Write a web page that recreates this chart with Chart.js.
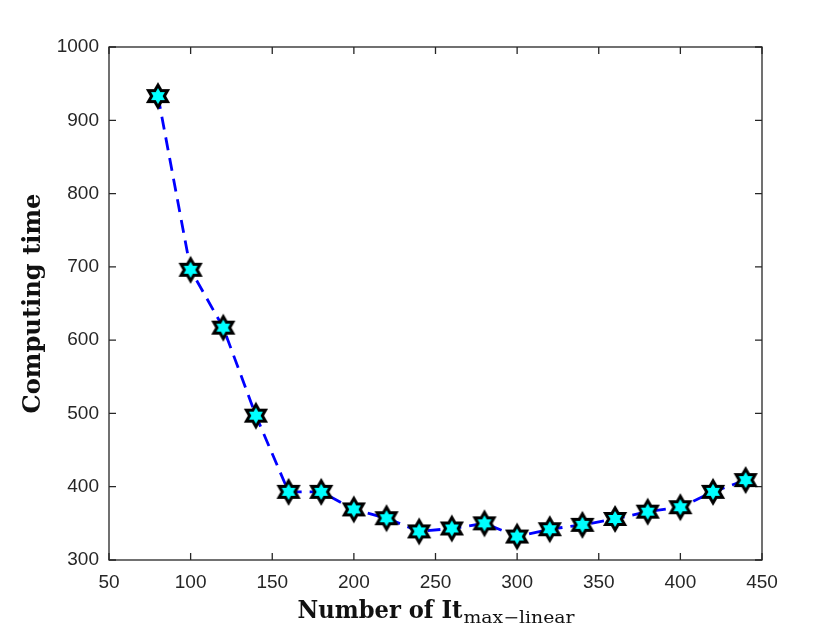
<!DOCTYPE html>
<html><head><meta charset="utf-8">
<script src="https://cdn.jsdelivr.net/npm/chart.js@4.4.0/dist/chart.umd.min.js"></script>
<style>html,body{margin:0;padding:0;background:#fff}#wrap{width:840px;height:630px}</style>
</head><body><div id="wrap"><canvas id="c" width="840" height="630"></canvas></div>
<script>
const xValues = [80,100,120,140,160,180,200,220,240,260,280,300,320,340,360,380,400,420,440];
const computingTime = [933,696,617,497,393,393,369,357,339,343,350,332,342,348,356,366,372,393,409];
const xTicks = [50,100,150,200,250,300,350,400,450];
const yTicks = [300,400,500,600,700,800,900,1000];
const yTitle = 'Computing time';
const xTitleMain = 'Number of It';
const xTitleSub = 'max\u2212linear';

function makeHexagram(R, lw){
  const s = Math.ceil(2*R + lw*2 + 4);
  const c = document.createElement('canvas'); c.width = s; c.height = s;
  const g = c.getContext('2d'); const cx = s/2, cy = s/2;
  g.beginPath();
  for (let i = 0; i < 12; i++) {
    const ang = -Math.PI/2 + i*Math.PI/6;
    const r = i % 2 === 0 ? R : R/Math.sqrt(3);
    g.lineTo(cx + r*Math.cos(ang), cy + r*Math.sin(ang));
  }
  g.closePath();
  g.fillStyle = '#00FFFF'; g.fill();
  g.lineWidth = lw; g.lineJoin = 'miter'; g.strokeStyle = '#000'; g.stroke();
  return c;
}
const star = makeHexagram(11, 3);

const AX = '#262626';
const tickFont = {family: '"Liberation Sans", Arial, sans-serif', size: 19};

const framePlugin = {
  id: 'frame',
  beforeDatasetsDraw(chart) {
    const {ctx, chartArea: a, scales: {x, y}} = chart;
    ctx.save();
    ctx.strokeStyle = AX; ctx.lineWidth = 1.3;
    ctx.strokeRect(a.left, a.top, a.right - a.left, a.bottom - a.top);
    const tl = 7;
    ctx.beginPath();
    xTicks.forEach(v => {
      const px = x.getPixelForValue(v);
      ctx.moveTo(px, a.bottom); ctx.lineTo(px, a.bottom - tl);
      ctx.moveTo(px, a.top); ctx.lineTo(px, a.top + tl);
    });
    yTicks.forEach(v => {
      const py = y.getPixelForValue(v);
      ctx.moveTo(a.left, py); ctx.lineTo(a.left + tl, py);
      ctx.moveTo(a.right, py); ctx.lineTo(a.right - tl, py);
    });
    ctx.stroke();
    ctx.restore();
  },
  afterDraw(chart) {
    const {ctx, chartArea: a} = chart;
    ctx.save();
    ctx.fillStyle = '#111';
    const mainFont = 'bold 24px "DejaVu Serif", serif';
    const subFont = '16px "DejaVu Serif", serif';
    const wMainT = 165, wSubT = 111;
    const cx = (a.left + a.right)/2;
    const start = cx - (wMainT + wSubT)/2;
    ctx.font = mainFont;
    let w = ctx.measureText(xTitleMain).width;
    ctx.save(); ctx.translate(start, 618); ctx.scale(wMainT/w, 1);
    ctx.textAlign = 'left'; ctx.textBaseline = 'alphabetic';
    ctx.fillText(xTitleMain, 0, 0); ctx.restore();
    ctx.font = subFont;
    w = ctx.measureText(xTitleSub).width;
    ctx.save(); ctx.translate(start + wMainT + 1, 623); ctx.scale(wSubT/w, 1);
    ctx.textAlign = 'left'; ctx.fillText(xTitleSub, 0, 0); ctx.restore();
    ctx.font = mainFont;
    w = ctx.measureText(yTitle).width;
    const cy = (a.top + a.bottom)/2;
    ctx.save(); ctx.translate(40, cy); ctx.rotate(-Math.PI/2); ctx.scale(220/w, 1);
    ctx.textAlign = 'center'; ctx.textBaseline = 'alphabetic';
    ctx.fillText(yTitle, 0, 0); ctx.restore();
    ctx.restore();
  }
};

new Chart(document.getElementById('c'), {
  type: 'line',
  data: {
    datasets: [{
      data: xValues.map((v, i) => ({x: v, y: computingTime[i]})),
      borderColor: '#0000FF',
      borderWidth: 2.8,
      borderDash: [13, 8],
      pointStyle: star,
      pointRadius: 12,
      pointHoverRadius: 12,
      fill: false,
      tension: 0
    }]
  },
  options: {
    responsive: false,
    animation: false,
    devicePixelRatio: 1,
    events: [],
    clip: false,
    layout: {padding: {top: 47, right: 78, left: 0, bottom: 0}},
    plugins: {legend: {display: false}, tooltip: {enabled: false}, title: {display: false}},
    scales: {
      x: {
        type: 'linear', min: 50, max: 450,
        afterBuildTicks: s => { s.ticks = xTicks.map(v => ({value: v})); },
        afterFit: s => { s.height = 70; },
        grid: {display: false, drawTicks: false},
        border: {display: false},
        ticks: {color: AX, font: tickFont, padding: 11, maxRotation: 0, autoSkip: false, callback: v => String(v)}
      },
      y: {
        type: 'linear', min: 300, max: 1000,
        afterBuildTicks: s => { s.ticks = yTicks.map(v => ({value: v})); },
        afterFit: s => { s.width = 109; },
        grid: {display: false, drawTicks: false},
        border: {display: false},
        ticks: {color: AX, font: tickFont, padding: 10, autoSkip: false, callback: v => String(v)}
      }
    }
  },
  plugins: [framePlugin]
});
</script></body></html>
